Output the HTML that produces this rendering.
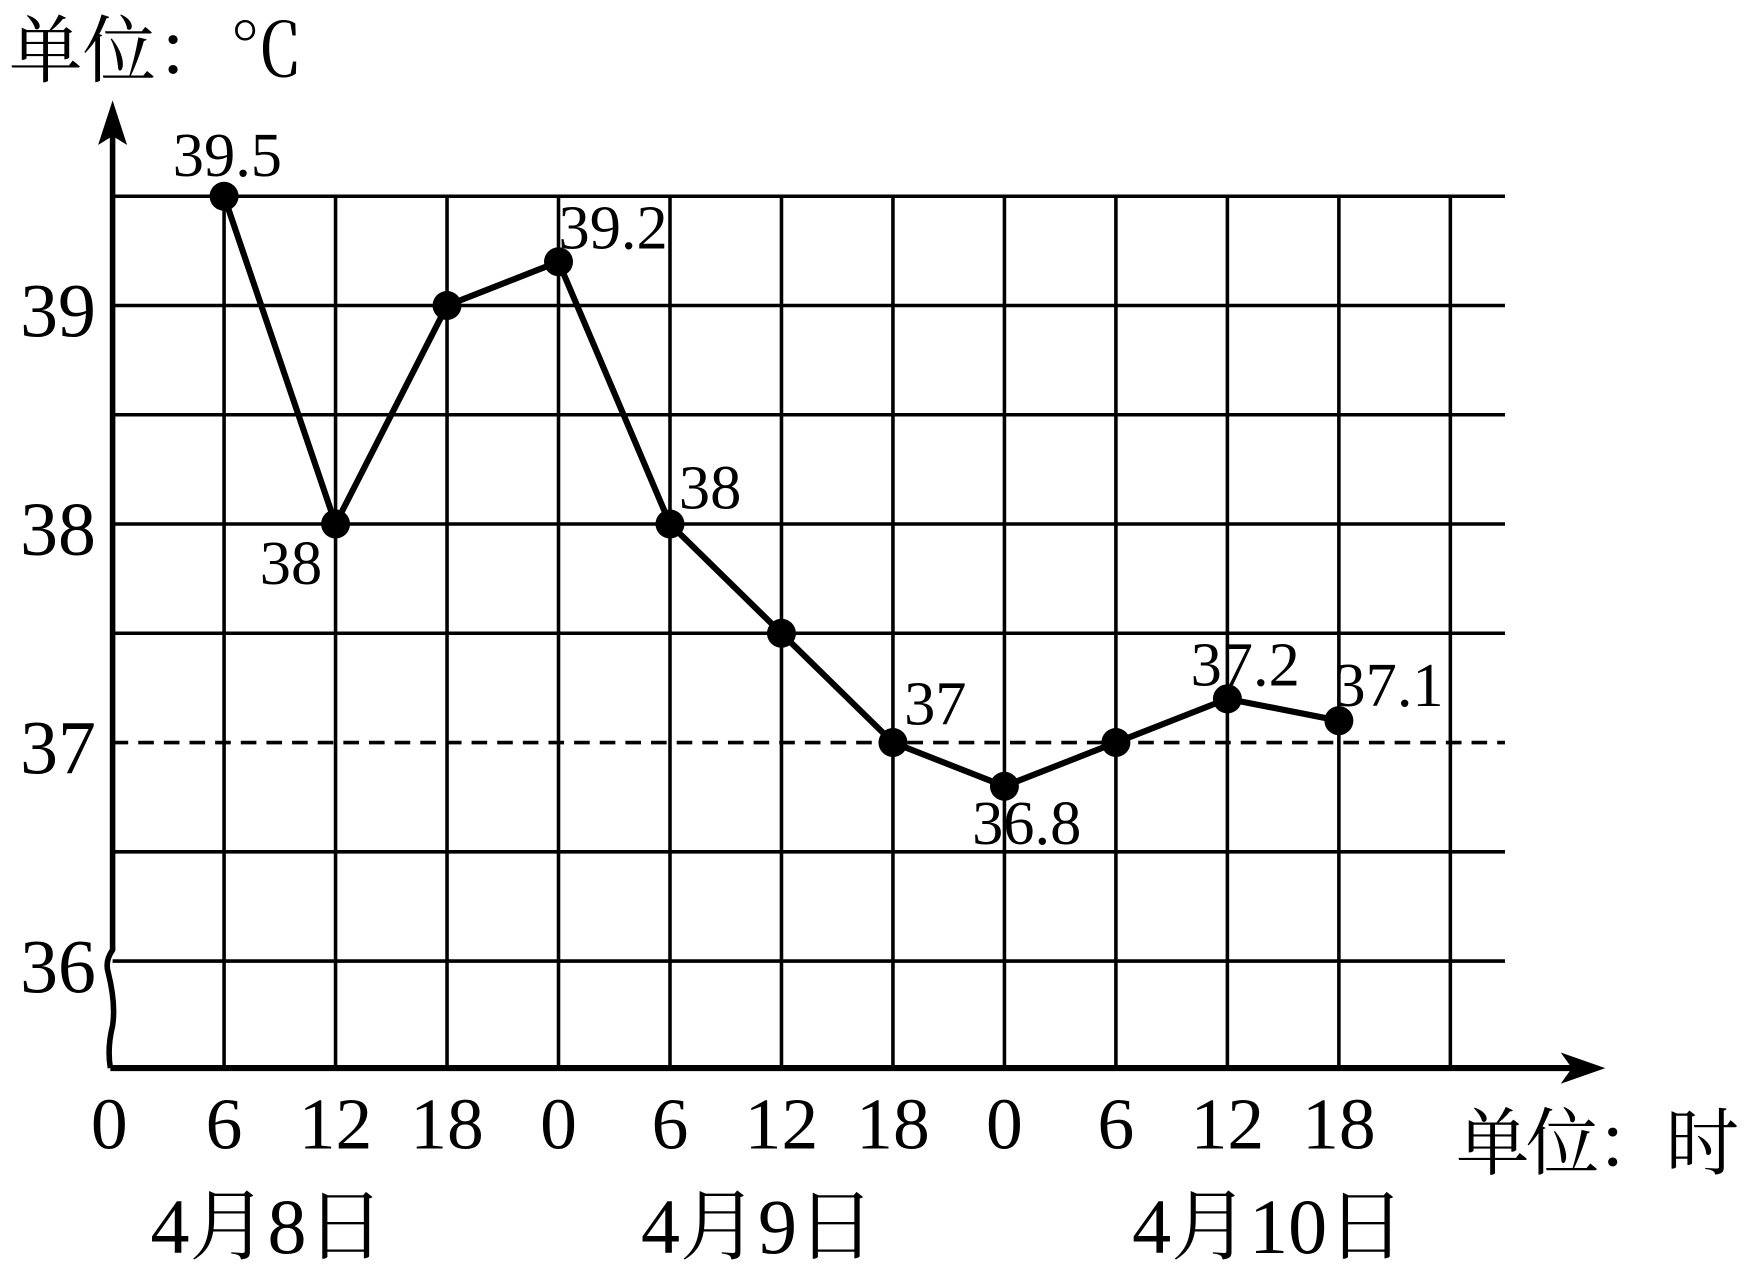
<!DOCTYPE html>
<html><head><meta charset="utf-8"><style>
html,body{margin:0;padding:0;background:#fff;}
svg{display:block;}
text{font-family:"Liberation Serif","Noto Serif CJK SC",serif;fill:#000;}
</style></head><body>
<svg id="chart" width="1748" height="1271" viewBox="0 0 1568 1140" preserveAspectRatio="none" xmlns="http://www.w3.org/2000/svg">
<g id="grid"></g>
<g id="series"></g>
<g id="labels"></g>
</svg>
<script>
const xTickLabels = ["0","6","12","18","0","6","12","18","0","6","12","18"];
const yTickLabels = ["36","37","38","39"];
const yTickValues = [36,37,38,39];
const temps = [39.5,38,39,39.2,38,37.5,37,36.8,37,37.2,37.1];
const pointLabels = ["39.5","38","","39.2","38","","37","36.8","","37.2","37.1"];
const dateLabels = ["4月8日","4月9日","4月10日"];

const NS="http://www.w3.org/2000/svg";
const X0=101, DX=100, Y36=862, DY=196;
function xs(i){return X0+i*DX;}
function ys(v){return Y36-(v-36)*DY;}
function mk(tag,attrs,parent){const e=document.createElementNS(NS,tag);for(const k in attrs)e.setAttribute(k,attrs[k]);parent.appendChild(e);return e;}
const grid=document.getElementById('grid'), ser=document.getElementById('series'), lab=document.getElementById('labels');

for(let v=36; v<=39.5; v+=0.5){
  if(v===37) continue;
  const l=mk('line',{x1:X0,x2:1350,y1:ys(v),y2:ys(v),stroke:'#000','stroke-width':3.2},grid);
  
  
}
for(let i=1;i<=12;i++){
  const l=mk('line',{x1:xs(i),x2:xs(i),y1:ys(39.5),y2:958,stroke:'#000','stroke-width':3.2},grid);
  
  
}
const dl=mk('line',{x1:X0,x2:1350,y1:ys(37),y2:ys(37),stroke:'#000','stroke-width':3.2,'stroke-dasharray':'14 9'},grid);


const ya=mk('path',{d:`M${X0} 110 L${X0} 852 Q94 862 97 872 Q104 900 101 920 Q96 940 99 958`,stroke:'#000','stroke-width':5,fill:'none'},grid);


const yar=mk('path',{d:`M${X0} 90 L88 130 L${X0} 122 L114 130 Z`,fill:'#000'},grid);


const xa=mk('line',{x1:99,x2:1420,y1:958,y2:958,stroke:'#000','stroke-width':5.5},grid);


const xar=mk('path',{d:'M1440 958 L1400 944 L1410 958 L1400 972 Z',fill:'#000'},grid);



const pts=temps.map((v,i)=>xs(i+1)+','+ys(v)).join(' ');
const pl=mk('polyline',{points:pts,fill:'none',stroke:'#000','stroke-width':5.5,'stroke-linejoin':'round'},ser);


temps.forEach((v,i)=>{
  const c=mk('circle',{cx:xs(i+1),cy:ys(v),r:13,fill:'#000'},ser);
  
  
});
const off=[[-46,-18],[-68,54],[0,0],[0,-12],[8,-14],[0,0],[10,-16],[-29,52],[0,0],[-33,-12],[-4,-13]];
pointLabels.forEach((t,i)=>{
  if(!t) return;
  const e=mk('text',{x:xs(i+1)+off[i][0],y:ys(temps[i])+off[i][1],'font-size':56},lab);
  e.textContent=t;
  
  
});
yTickValues.forEach((v,i)=>{
  const e=mk('text',{x:86,y:ys(v)+28,'font-size':68,'text-anchor':'end'},lab);
  e.textContent=yTickLabels[i];
  
  
});
xTickLabels.forEach((t,i)=>{
  const e=mk('text',{x:xs(i)-(i===0?3:0),y:1030,'font-size':66,'text-anchor':'middle'},lab);
  e.textContent=t;
  
  
});
const dX=[240,680,1138];
dateLabels.forEach((t,i)=>{
  const e=mk('text',{x:dX[i],y:1124,'font-size':70,'text-anchor':'middle'},lab);
  e.textContent=t;
  
  
});
const yt=mk('text',{x:8,y:68,'font-size':66},lab);
yt.textContent='单位：℃';


const xt=mk('text',{x:1306,y:1048,'font-size':66,textLength:254},lab);
xt.textContent='单位：时';


</script>
</body></html>
